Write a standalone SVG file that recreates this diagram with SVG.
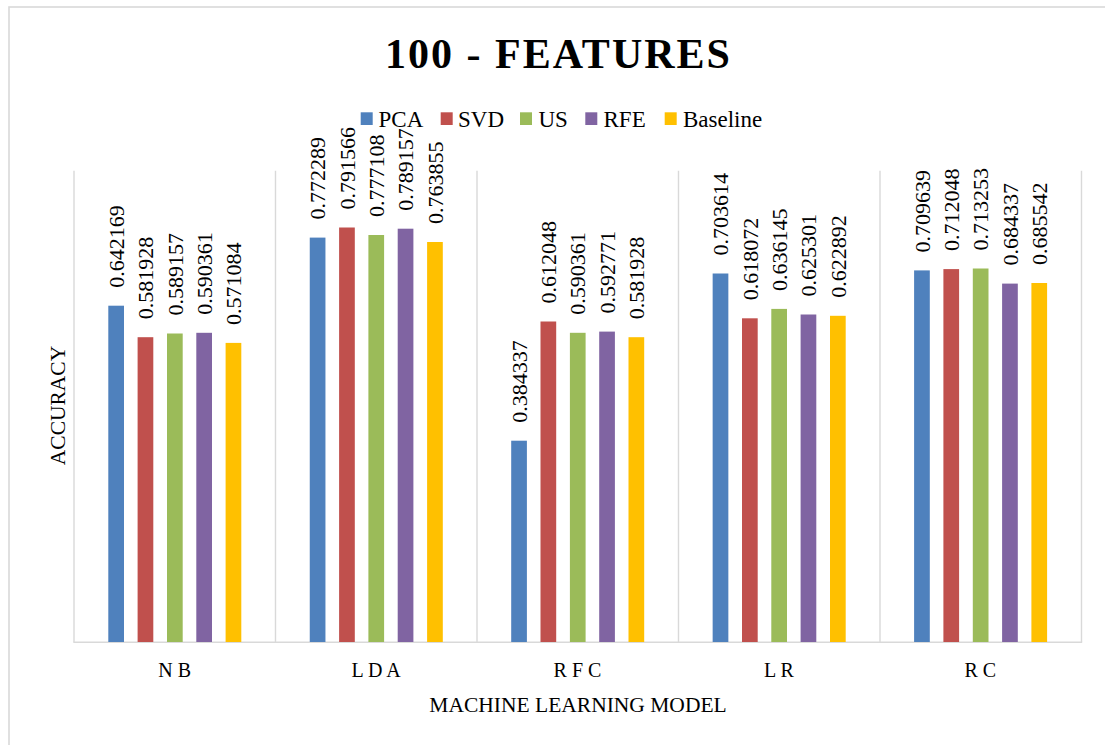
<svg xmlns="http://www.w3.org/2000/svg" width="1105" height="745" viewBox="0 0 1105 745">
  <style>
    text { font-family: "Liberation Serif", "Times New Roman", serif; fill: #000; }
    .title { font-size: 42px; font-weight: bold; letter-spacing: 2px; }
    .legend { font-size: 23px; }
    .val { font-size: 22px; }
    .cat { font-size: 20px; text-anchor: middle; }
    .axis { font-size: 21.5px; text-anchor: middle; }
    .grid { stroke: #D9D9D9; stroke-width: 1.4; fill: none; }
    .pca { fill: #4F81BD; }
    .svd { fill: #C0504D; }
    .us { fill: #9BBB59; }
    .rfe { fill: #8064A2; }
    .base { fill: #FFC000; }
  </style>

  <!-- background and chart frame -->
  <rect x="0" y="0" width="1105" height="745" fill="#FFFFFF"/>
  <rect x="9" y="7" width="1120" height="760" fill="none" stroke="#D9D9D9" stroke-width="1.6"/>

  <!-- title -->
  <text id="title" class="title" x="385" y="68.3">100 - FEATURES</text>

  <!-- legend -->
  <g id="legend">
    <rect class="pca" x="360.7" y="112.3" width="12" height="12.7"/>
    <text class="legend" x="378.5" y="126.5">PCA</text>
    <rect class="svd" x="440.7" y="112.3" width="12" height="12.7"/>
    <text class="legend" x="458" y="126.5">SVD</text>
    <rect class="us" x="520" y="112.3" width="12" height="12.7"/>
    <text class="legend" x="538.5" y="126.5">US</text>
    <rect class="rfe" x="585.3" y="112.3" width="12" height="12.7"/>
    <text class="legend" x="603.5" y="126.5">RFE</text>
    <rect class="base" x="664.7" y="112.3" width="12" height="12.7"/>
    <text class="legend" x="683" y="126.5">Baseline</text>
  </g>

  <!-- category separators and horizontal axis -->
  <g id="gridlines">
    <line class="grid" x1="74" y1="170.7" x2="74" y2="642"/>
    <line class="grid" x1="275.5" y1="170.7" x2="275.5" y2="642"/>
    <line class="grid" x1="477" y1="170.7" x2="477" y2="642"/>
    <line class="grid" x1="678.5" y1="170.7" x2="678.5" y2="642"/>
    <line class="grid" x1="880" y1="170.7" x2="880" y2="642"/>
    <line class="grid" x1="1081.5" y1="170.7" x2="1081.5" y2="642"/>
    <line class="grid" x1="73.3" y1="642.3" x2="1082.2" y2="642.3" stroke-width="1.6"/>
  </g>

  <!-- NB -->
  <g id="group-nb">
    <rect class="pca" x="108.3" y="305.7" width="15.7" height="336.3"/>
    <rect class="svd" x="137.6" y="337.2" width="15.7" height="304.8"/>
    <rect class="us" x="167.0" y="333.5" width="15.7" height="308.5"/>
    <rect class="rfe" x="196.3" y="332.8" width="15.7" height="309.2"/>
    <rect class="base" x="225.6" y="342.9" width="15.7" height="299.1"/>
    <text class="val" transform="translate(123.8,287.7) rotate(-90)">0.642169</text>
    <text class="val" transform="translate(153.1,319.2) rotate(-90)">0.581928</text>
    <text class="val" transform="translate(182.5,315.5) rotate(-90)">0.589157</text>
    <text class="val" transform="translate(211.8,314.8) rotate(-90)">0.590361</text>
    <text class="val" transform="translate(241.1,324.9) rotate(-90)">0.571084</text>
    <text class="cat" x="174.7" y="676.7">N B</text>
  </g>

  <!-- LDA -->
  <g id="group-lda">
    <rect class="pca" x="309.75" y="237.6" width="15.7" height="404.4"/>
    <rect class="svd" x="339.1" y="227.5" width="15.7" height="414.5"/>
    <rect class="us" x="368.4" y="235.0" width="15.7" height="407.0"/>
    <rect class="rfe" x="397.7" y="228.7" width="15.7" height="413.3"/>
    <rect class="base" x="427.1" y="242.0" width="15.7" height="400.0"/>
    <text class="val" transform="translate(325.25,219.6) rotate(-90)">0.772289</text>
    <text class="val" transform="translate(354.6,209.5) rotate(-90)">0.791566</text>
    <text class="val" transform="translate(383.9,217.0) rotate(-90)">0.777108</text>
    <text class="val" transform="translate(413.2,210.7) rotate(-90)">0.789157</text>
    <text class="val" transform="translate(442.6,224.0) rotate(-90)">0.763855</text>
    <text class="cat" x="376.1" y="676.7">L D A</text>
  </g>

  <!-- RFC -->
  <g id="group-rfc">
    <rect class="pca" x="511.2" y="440.7" width="15.7" height="201.3"/>
    <rect class="svd" x="540.5" y="321.5" width="15.7" height="320.5"/>
    <rect class="us" x="569.9" y="332.8" width="15.7" height="309.2"/>
    <rect class="rfe" x="599.2" y="331.6" width="15.7" height="310.4"/>
    <rect class="base" x="628.5" y="337.2" width="15.7" height="304.8"/>
    <text class="val" transform="translate(526.7,422.7) rotate(-90)">0.384337</text>
    <text class="val" transform="translate(556.0,303.5) rotate(-90)">0.612048</text>
    <text class="val" transform="translate(585.4,314.8) rotate(-90)">0.590361</text>
    <text class="val" transform="translate(614.7,313.6) rotate(-90)">0.592771</text>
    <text class="val" transform="translate(644.0,319.2) rotate(-90)">0.581928</text>
    <text class="cat" x="577.5" y="676.7">R F C</text>
  </g>

  <!-- LR -->
  <g id="group-lr">
    <rect class="pca" x="712.65" y="273.5" width="15.7" height="368.5"/>
    <rect class="svd" x="742.0" y="318.3" width="15.7" height="323.7"/>
    <rect class="us" x="771.3" y="308.9" width="15.7" height="333.1"/>
    <rect class="rfe" x="800.6" y="314.5" width="15.7" height="327.5"/>
    <rect class="base" x="830.0" y="315.8" width="15.7" height="326.2"/>
    <text class="val" transform="translate(728.15,255.5) rotate(-90)">0.703614</text>
    <text class="val" transform="translate(757.5,300.3) rotate(-90)">0.618072</text>
    <text class="val" transform="translate(786.8,290.9) rotate(-90)">0.636145</text>
    <text class="val" transform="translate(816.1,296.5) rotate(-90)">0.625301</text>
    <text class="val" transform="translate(845.5,297.8) rotate(-90)">0.622892</text>
    <text class="cat" x="778.9" y="676.7">L R</text>
  </g>

  <!-- RC -->
  <g id="group-rc">
    <rect class="pca" x="914.1" y="270.4" width="15.7" height="371.6"/>
    <rect class="svd" x="943.4" y="269.1" width="15.7" height="372.9"/>
    <rect class="us" x="972.8" y="268.5" width="15.7" height="373.5"/>
    <rect class="rfe" x="1002.1" y="283.6" width="15.7" height="358.4"/>
    <rect class="base" x="1031.4" y="283.0" width="15.7" height="359.0"/>
    <text class="val" transform="translate(929.6,252.4) rotate(-90)">0.709639</text>
    <text class="val" transform="translate(958.9,251.1) rotate(-90)">0.712048</text>
    <text class="val" transform="translate(988.3,250.5) rotate(-90)">0.713253</text>
    <text class="val" transform="translate(1017.6,265.6) rotate(-90)">0.684337</text>
    <text class="val" transform="translate(1046.9,265.0) rotate(-90)">0.685542</text>
    <text class="cat" x="980.3" y="676.7">R C</text>
  </g>

  <!-- axis titles -->
  <text id="y-axis-title" class="axis" font-size="20.6" transform="translate(65,405.5) rotate(-90)">ACCURACY</text>
  <text id="x-axis-title" class="axis" x="578" y="712">MACHINE LEARNING MODEL</text>
</svg>
